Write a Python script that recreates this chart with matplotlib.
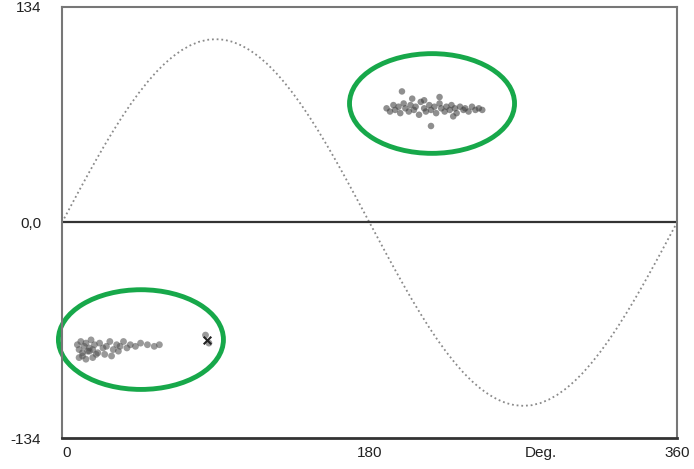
import matplotlib
matplotlib.use("Agg")
import matplotlib.pyplot as plt
from matplotlib.patches import Ellipse

plt.rcParams['font.family'] = ['Liberation Sans', 'DejaVu Sans']

# Sine-like reference curve, read every 5 degrees
curve_deg = list(range(0, 361, 5))
curve_val = [0, 9.9, 19.8, 29.5, 39.0, 48.2, 57.0, 65.4, 73.3, 80.6, 87.3, 93.4, 98.7, 103.3, 107.1, 110.1, 112.3, 113.6, 114,
             113.6, 112.3, 110.1, 107.1, 103.3, 98.7, 93.4, 87.3, 80.6, 73.3, 65.4, 57.0, 48.2, 39.0, 29.5, 19.8, 9.9, 0,
             -9.9, -19.8, -29.5, -39.0, -48.2, -57.0, -65.4, -73.3, -80.6, -87.3, -93.4, -98.7, -103.3, -107.1, -110.1, -112.3, -113.6, -114,
             -113.6, -112.3, -110.1, -107.1, -103.3, -98.7, -93.4, -87.3, -80.6, -73.3, -65.4, -57.0, -48.2, -39.0, -29.5, -19.8, -9.9, 0]

# Upper-right cluster
upper_x = [190, 192, 194, 195, 197, 198, 200, 201, 203, 204, 206, 207, 209, 210, 212, 213, 215, 216, 218, 219,
           221, 222, 224, 225, 227, 228, 230, 231, 233, 235, 236, 238, 240, 242, 244, 246, 199, 221, 216, 205, 229, 212]
upper_y = [71, 69, 73, 70, 72, 68, 74, 71, 69, 73, 70, 72, 67, 75, 71, 69, 73, 70, 72, 68,
           74, 71, 69, 72, 70, 73, 71, 68, 72, 70, 71, 69, 72, 70, 71, 70, 81.5, 78, 60, 77, 66, 76]

# Lower-left cluster
lower_x = [9, 10, 11, 12, 13, 14, 15, 16, 17, 18, 19, 20, 22, 24, 26, 28, 30, 32, 34, 36, 38, 40, 43, 46, 50, 54, 57,
           10, 12, 14, 16, 18, 21, 25, 29, 33, 84, 86]
lower_y = [-76, -79, -74, -81, -77, -75, -80, -78, -73, -79, -76, -82, -75, -78, -77, -74, -79, -76, -77, -74, -78, -76,
           -77, -75, -76, -77, -76, -84, -83, -85, -80, -84, -81, -82, -83, -80, -70, -75]
star_x = [85]
star_y = [-73]

x_ticks = [0, 180, 280, 360]
x_tick_labels = ['0', '180', 'Deg.', '360']
y_ticks = [-134, 0, 134]
y_tick_labels = ['-134', '0,0', '134']

# Highlight ellipses (center x, center y, width, height) in data units
ellipse_cx = [216.6, 46.2]
ellipse_cy = [74, -72.8]
ellipse_w = [96.6, 96.6]
ellipse_h = [62, 62]

fig = plt.figure(figsize=(6.94, 4.69), dpi=100)
ax = fig.add_axes([62/694, 31/469, 615/694, 431/469])
ax.set_xlim(0, 360)
ax.set_ylim(-134, 134)

ax.plot(curve_deg, curve_val, color='#8a8a8a', lw=1.3, linestyle=(0, (1, 1.6)))
ax.axhline(0, color='#333333', lw=1.6)

ax.scatter(upper_x, upper_y, s=22, color='#444444', alpha=0.6, edgecolors='none')
ax.scatter(lower_x, lower_y, s=24, color='#555555', alpha=0.6, edgecolors='none')
ax.scatter(star_x, star_y, s=30, marker='x', color='#222222', lw=1.5)

for cx, cy, w, h in zip(ellipse_cx, ellipse_cy, ellipse_w, ellipse_h):
    e = Ellipse((cx, cy), w, h, fill=False, edgecolor='#17a84a', lw=3.5, clip_on=False)
    ax.add_patch(e)

ax.set_xticks(x_ticks)
ax.set_xticklabels(x_tick_labels)
ax.set_yticks(y_ticks)
ax.set_yticklabels(y_tick_labels)
ax.tick_params(length=0, labelsize=11, colors='#222222')
ax.tick_params(axis='y', pad=15)
ax.tick_params(axis='x', pad=6)
labels = ax.get_xticklabels()
labels[0].set_horizontalalignment('left')

for side in ['top', 'right', 'left']:
    ax.spines[side].set_color('#777777')
    ax.spines[side].set_linewidth(1.5)
ax.spines['bottom'].set_color('#333333')
ax.spines['bottom'].set_linewidth(2)

fig.savefig('out.png', dpi=100)
